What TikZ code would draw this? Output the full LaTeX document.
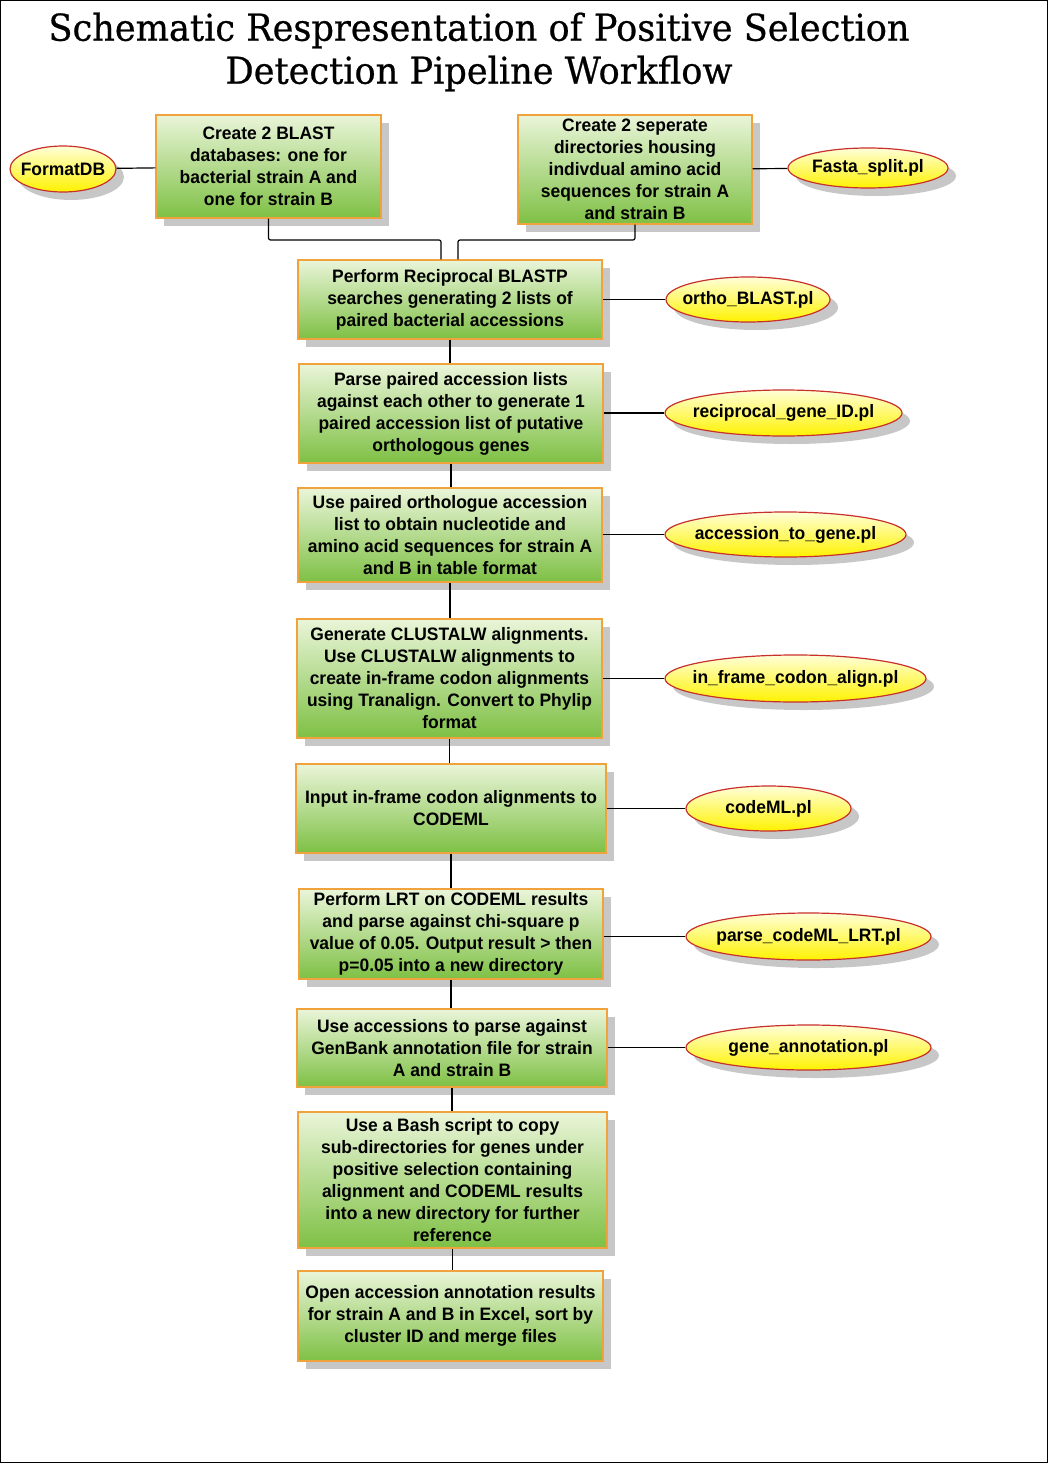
\documentclass[tikz,border=0pt]{standalone}
\usepackage{fontspec}
\usetikzlibrary{shapes.geometric,shadows}
\newfontfamily\titlefont[FakeStretch=0.95,FakeBold=0.6]{DejaVu Serif}
\newfontfamily\boxfont[FakeStretch=0.97]{Liberation Sans}
\newcommand{\plname}[1]{\makebox[0pt]{#1}}
\definecolor{boxtop}{HTML}{EAF5D9}
\definecolor{boxbot}{HTML}{7EC044}
\definecolor{boxline}{HTML}{F0A23C}
\definecolor{elltop}{HTML}{FFFFD8}
\definecolor{ellbot}{HTML}{FFF200}
\definecolor{ellline}{HTML}{C8302C}
\begin{document}
\begin{tikzpicture}[x=1pt,y=-1pt,
  stepbox/.style={draw=boxline,line width=1.4pt,top color=boxtop,bottom color=boxbot,
    drop shadow={shadow xshift=8pt,shadow yshift=-8pt,fill=black!22,opacity=1},
    inner sep=0pt,align=center,font=\boxfont\bfseries\fontsize{18}{22}\selectfont},
  script/.style={ellipse,draw=ellline,line width=1.2pt,top color=elltop,bottom color=ellbot,
    drop shadow={shadow xshift=8pt,shadow yshift=-8pt,fill=black!22,opacity=1},
    inner sep=0pt,font=\boxfont\bfseries\fontsize{18}{22}\selectfont},
  link/.style={line width=1.2pt}]
\useasboundingbox (0,0) rectangle (1048,1463);
\draw[line width=1pt] (0.5,0.5) rectangle (1047.5,1462.5);
\node[font=\titlefont\fontsize{37}{43}\selectfont,align=center] (title) at (479,52)
  {Schematic Respresentation of Positive Selection\\Detection Pipeline Workflow};
% top row
\node[stepbox,minimum width=225,minimum height=103] (blastdb) at (268.5,166.5)
  {Create 2 BLAST\\databases: one for\\bacterial strain A and\\one for strain B};
\node[stepbox,minimum width=234,minimum height=109] (splitdirs) at (635,169.5)
  {Create 2 seperate\\directories housing\\indivdual amino acid\\sequences for strain A\\and strain B};
\node[script,minimum width=106,minimum height=46] (formatdb) at (63,169) {\plname{FormatDB}};
\node[script,minimum width=160,minimum height=40] (fastasplit) at (868,168) {\plname{Fasta\_split.pl}};
% main column
\node[stepbox,minimum width=304,minimum height=79] (recip) at (450,299.5)
  {Perform Reciprocal BLASTP\\searches generating 2 lists of\\paired bacterial accessions};
\node[stepbox,minimum width=304,minimum height=99] (parsepairs) at (451,413.5)
  {Parse paired accession lists\\against each other to generate 1\\paired accession list of putative\\orthologous genes};
\node[stepbox,minimum width=304,minimum height=94] (getseqs) at (450,535)
  {Use paired orthologue accession\\list to obtain nucleotide and\\amino acid sequences for strain A\\and B in table format};
\node[stepbox,minimum width=305,minimum height=119] (clustal) at (449.5,678.5)
  {Generate CLUSTALW alignments.\\Use CLUSTALW alignments to\\create in-frame codon alignments\\using Tranalign. Convert to Phylip\\format};
\node[stepbox,minimum width=310,minimum height=89] (codeml) at (451,808.5)
  {Input in-frame codon alignments to\\CODEML};
\node[stepbox,minimum width=304,minimum height=90] (lrt) at (451,934)
  {Perform LRT on CODEML results\\and parse against chi-square p\\value of 0.05. Output result > then\\p=0.05 into a new directory};
\node[stepbox,minimum width=310,minimum height=78] (annot) at (452,1048)
  {Use accessions to parse against\\GenBank annotation file for strain\\A and strain B};
\node[stepbox,minimum width=309,minimum height=136] (bashcopy) at (452.5,1180)
  {Use a Bash script to copy\\sub-directories for genes under\\positive selection containing\\alignment and CODEML results\\into a new directory for further\\reference};
\node[stepbox,minimum width=305,minimum height=90] (excel) at (450.5,1316)
  {Open accession annotation results\\for strain A and B in Excel, sort by\\cluster ID and merge files};
% perl scripts
\node[script,minimum width=164,minimum height=45] (orthoblast) at (748,299.5) {\plname{ortho\_BLAST.pl}};
\node[script,minimum width=237,minimum height=46] (recipid) at (783.5,413) {\plname{reciprocal\_gene\_ID.pl}};
\node[script,minimum width=241,minimum height=45] (acc2gene) at (785.5,534.5) {\plname{accession\_to\_gene.pl}};
\node[script,minimum width=261,minimum height=47] (codonalign) at (795.5,678.5) {\plname{in\_frame\_codon\_align.pl}};
\node[script,minimum width=165,minimum height=45] (codemlpl) at (768.5,808.5) {\plname{codeML.pl}};
\node[script,minimum width=245,minimum height=47] (parselrt) at (808.5,936.5) {\plname{parse\_codeML\_LRT.pl}};
\node[script,minimum width=245,minimum height=45] (geneannot) at (808.5,1047.5) {\plname{gene\_annotation.pl}};
% connectors
\coordinate (jl) at (441,240);
\coordinate (jr) at (458,240);
\draw[link] (formatdb) -- (blastdb);
\draw[link] (splitdirs) -- (fastasplit);
\draw[link,rounded corners=2pt] (blastdb.south) |- (jl) -- (jl |- recip.north);
\draw[link,rounded corners=2pt] (splitdirs.south) |- (jr) -- (jr |- recip.north);
\draw[link] (recip.south) -- (recip.south |- parsepairs.north);
\draw[link] (parsepairs.south) -- (parsepairs.south |- getseqs.north);
\draw[link] (getseqs.south) -- (getseqs.south |- clustal.north);
\draw[link] (clustal.south) -- (clustal.south |- codeml.north);
\draw[link] (codeml.south) -- (codeml.south |- lrt.north);
\draw[link] (lrt.south) -- (lrt.south |- annot.north);
\draw[link] (annot.south) -- (annot.south |- bashcopy.north);
\draw[link] (bashcopy.south) -- (bashcopy.south |- excel.north);
\draw[link] (recip.east |- orthoblast.west) -- (orthoblast);
\draw[link] (parsepairs.east |- recipid.west) -- (recipid);
\draw[link] (getseqs.east |- acc2gene.west) -- (acc2gene);
\draw[link] (clustal.east |- codonalign.west) -- (codonalign);
\draw[link] (codeml.east |- codemlpl.west) -- (codemlpl);
\draw[link] (lrt.east |- parselrt.west) -- (parselrt);
\draw[link] (annot.east |- geneannot.west) -- (geneannot);
\end{tikzpicture}
\end{document}
